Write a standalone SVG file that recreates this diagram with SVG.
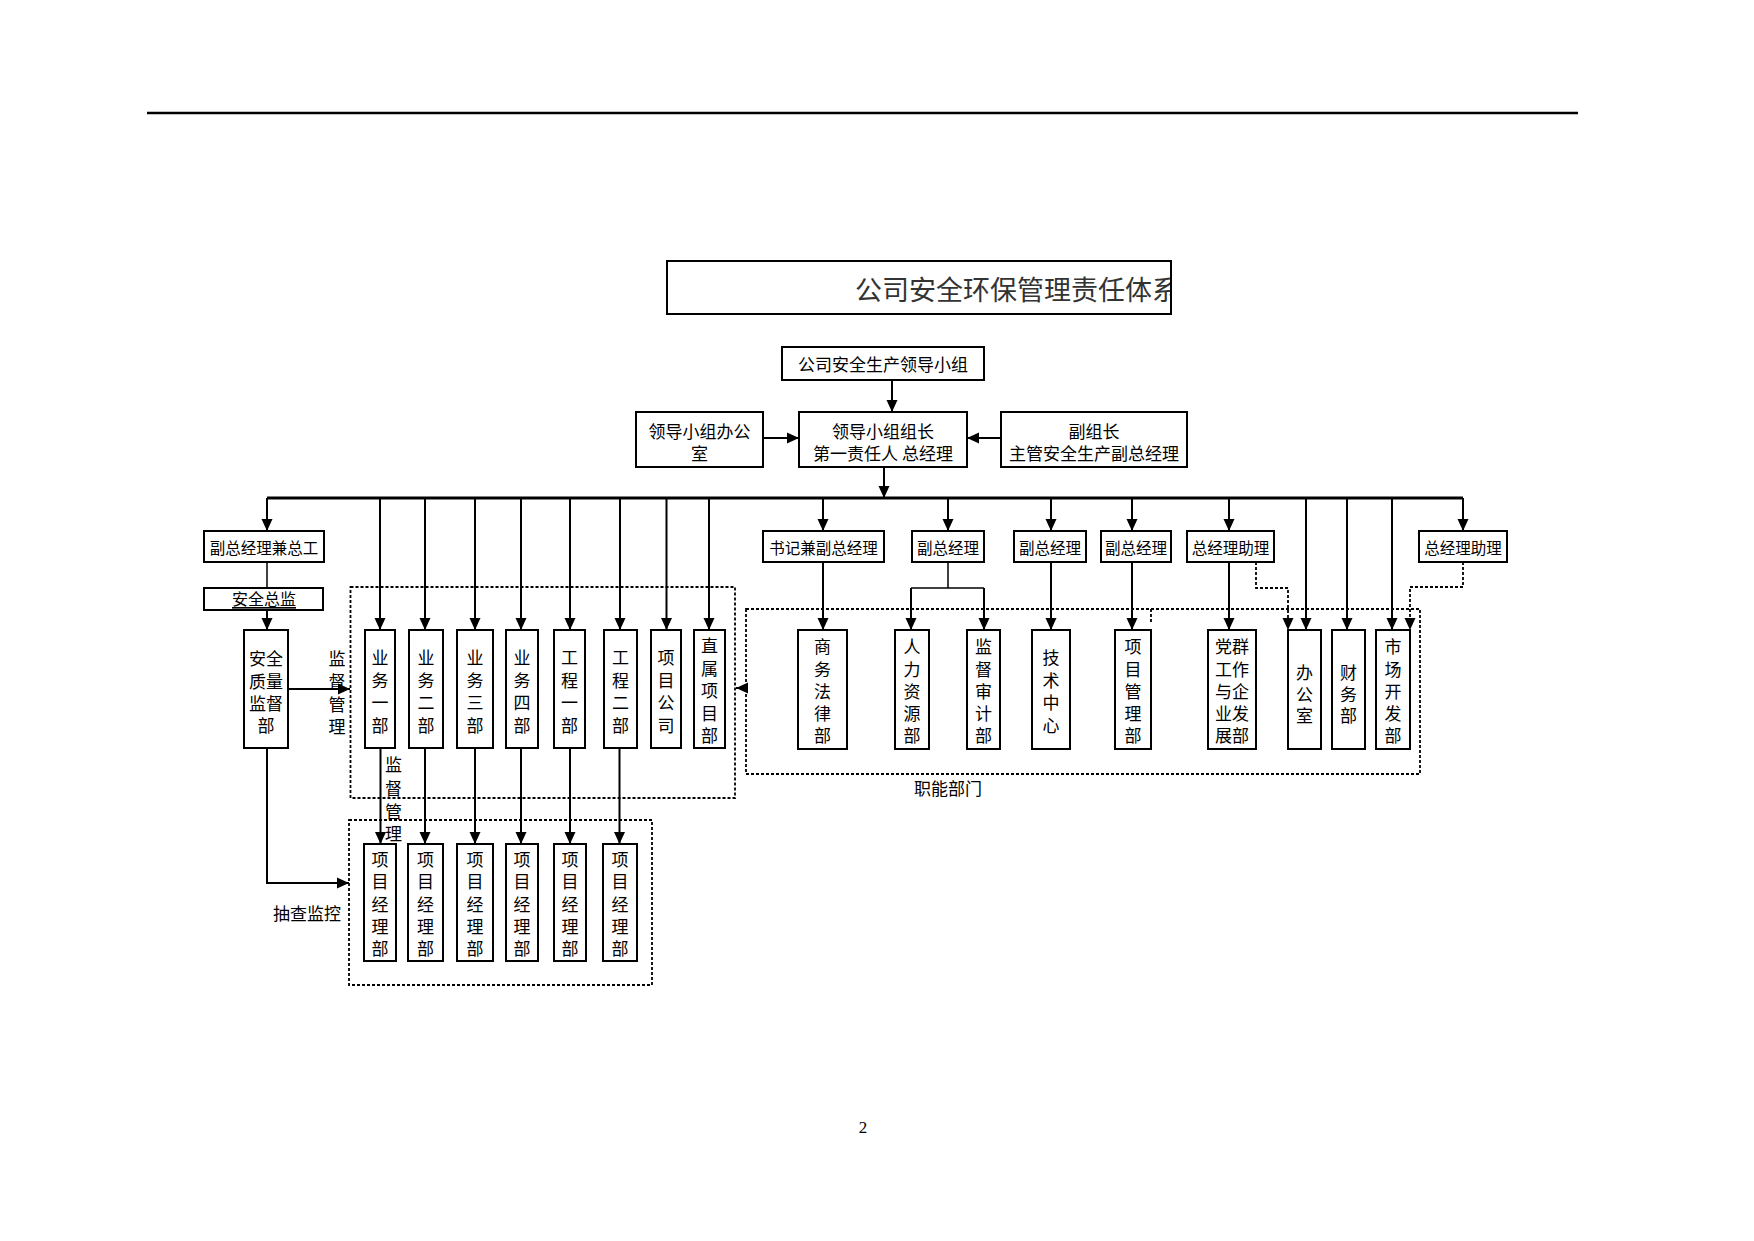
<svg xmlns="http://www.w3.org/2000/svg" width="1754" height="1241" viewBox="0 0 1754 1241">
<style>
.box{fill:#fff;stroke:#000;stroke-width:2}
.t{font-family:"Noto Sans CJK SC","Noto Sans",sans-serif;font-size:15.5px;fill:#000;text-anchor:middle;dominant-baseline:central}
.tv{font-size:17px}
.ln{stroke:#000;stroke-width:2;fill:none}
.thin{stroke-width:1.5}
.bus{stroke-width:3}
.dot{stroke:#000;stroke-width:1.8;stroke-dasharray:3 2;fill:none}
.ar{marker-end:url(#arr)}
</style>
<defs>
<marker id="arr" markerUnits="userSpaceOnUse" markerWidth="12" markerHeight="12" viewBox="0 0 12 12" refX="12" refY="6" orient="auto">
<path d="M0,0.5 L12,6 L0,11.5 z" fill="#000"/>
</marker>
<clipPath id="titleclip"><rect x="668" y="262" width="502" height="51"/></clipPath>
</defs>
<rect x="0" y="0" width="1754" height="1241" fill="#fff"/>
<line x1="147" y1="113" x2="1578" y2="113" stroke="#000" stroke-width="2.5"/>

<g id="title">
<rect x="667" y="261" width="504" height="53" class="box"/>
<text x="855" y="288" clip-path="url(#titleclip)" style="font-family:'Noto Sans CJK SC','Noto Sans',sans-serif;font-size:27px;fill:#333;dominant-baseline:central">公司安全环保管理责任体系</text>
</g>

<g id="connectors">
<line x1="892" y1="380" x2="892" y2="412" class="ln ar"/>
<line x1="763" y1="438" x2="799" y2="438" class="ln ar"/>
<line x1="1001" y1="438" x2="967" y2="438" class="ln ar"/>
<line x1="884" y1="467" x2="884" y2="498" class="ln ar"/>
<line x1="267" y1="498" x2="1463" y2="498" class="ln bus"/>
<line x1="267" y1="498" x2="267" y2="531" class="ln ar"/>
<line x1="823" y1="498" x2="823" y2="531" class="ln ar"/>
<line x1="948" y1="498" x2="948" y2="531" class="ln ar"/>
<line x1="1051" y1="498" x2="1051" y2="531" class="ln ar"/>
<line x1="1132" y1="498" x2="1132" y2="531" class="ln ar"/>
<line x1="1229" y1="498" x2="1229" y2="531" class="ln ar"/>
<line x1="1463" y1="498" x2="1463" y2="531" class="ln ar"/>
<line x1="267" y1="562" x2="267" y2="588" class="ln thin"/>
<line x1="267" y1="610" x2="267" y2="630" class="ln ar"/>
<line x1="288" y1="689" x2="350" y2="689" class="ln ar"/>
<polyline points="267,748 267,883 349,883" class="ln ar"/>
<line x1="380" y1="498" x2="380" y2="630" class="ln ar"/>
<line x1="425" y1="498" x2="425" y2="630" class="ln ar"/>
<line x1="475" y1="498" x2="475" y2="630" class="ln ar"/>
<line x1="521" y1="498" x2="521" y2="630" class="ln ar"/>
<line x1="570" y1="498" x2="570" y2="630" class="ln ar"/>
<line x1="620" y1="498" x2="620" y2="630" class="ln ar"/>
<line x1="666.5" y1="498" x2="666.5" y2="630" class="ln ar"/>
<line x1="709" y1="498" x2="709" y2="630" class="ln ar"/>
<line x1="380.5" y1="748" x2="380.5" y2="844" class="ln ar"/>
<line x1="425" y1="748" x2="425" y2="844" class="ln ar"/>
<line x1="475" y1="748" x2="475" y2="844" class="ln ar"/>
<line x1="521" y1="748" x2="521" y2="844" class="ln ar"/>
<line x1="570" y1="748" x2="570" y2="844" class="ln ar"/>
<line x1="619.5" y1="748" x2="619.5" y2="844" class="ln ar"/>
<line x1="823" y1="562" x2="823" y2="630" class="ln ar"/>
<line x1="948" y1="562" x2="948" y2="588" class="ln thin"/>
<line x1="911" y1="588" x2="984" y2="588" class="ln thin"/>
<line x1="911" y1="588" x2="911" y2="630" class="ln ar"/>
<line x1="984" y1="588" x2="984" y2="630" class="ln ar"/>
<line x1="1051" y1="562" x2="1051" y2="630" class="ln ar"/>
<line x1="1132" y1="562" x2="1132" y2="630" class="ln ar"/>
<line x1="1229" y1="562" x2="1229" y2="630" class="ln ar"/>
<line x1="1306" y1="498" x2="1306" y2="630" class="ln ar"/>
<line x1="1347" y1="498" x2="1347" y2="630" class="ln ar"/>
<line x1="1392" y1="498" x2="1392" y2="630" class="ln ar"/>
<polyline points="1256,562 1256,588 1288,588 1288,630" class="dot ar"/>
<polyline points="1463,562 1463,587 1410,587 1410,630" class="dot ar"/>
<line x1="748" y1="688" x2="736" y2="688" class="ln ar"/>
</g>

<g id="group-upper">
<rect x="350.5" y="587" width="384.5" height="211" class="dot"/>
</g>
<g id="group-lower">
<rect x="349" y="820" width="303" height="165" class="dot"/>
</g>
<g id="group-functional">
<rect x="746" y="609" width="674" height="165" class="dot"/>
<line x1="1151" y1="609" x2="1151" y2="622" class="dot"/>
<text x="948" y="787" class="t tv">职能部门</text>
</g>

<g id="n-leadgroup">
<rect x="782" y="347" width="202" height="33" class="box"/>
<text x="883" y="363.5" class="t tv">公司安全生产领导小组</text>
</g>
<g id="n-office">
<rect x="636" y="412" width="127" height="55" class="box"/>
<text x="699.5" y="430" class="t tv">领导小组办公</text>
<text x="699.5" y="452" class="t tv">室</text>
</g>
<g id="n-leader">
<rect x="799" y="412" width="168" height="55" class="box"/>
<text x="883" y="430" class="t tv">领导小组组长</text>
<text x="883" y="452" class="t tv">第一责任人  总经理</text>
</g>
<g id="n-deputy">
<rect x="1001" y="412" width="186" height="55" class="box"/>
<text x="1094" y="430" class="t tv">副组长</text>
<text x="1094" y="452" class="t tv">主管安全生产副总经理</text>
</g>

<g id="n-vgm-chief">
<rect x="204" y="531" width="120" height="31" class="box"/>
<text x="264" y="546.5" class="t">副总经理兼总工</text>
</g>
<g id="n-safety-director">
<rect x="204" y="588" width="119" height="22" class="box"/>
<text x="264" y="598" class="t" style="font-size:16px;text-decoration:underline">安全总监</text>
</g>
<g id="n-sqs">
<rect x="244" y="630" width="44" height="118" class="box"/>
<text class="t tv"><tspan x="266" y="657">安全</tspan><tspan x="266" y="680">质量</tspan><tspan x="266" y="702">监督</tspan><tspan x="266" y="724">部</tspan></text>
</g>
<text class="t tv"><tspan x="337" y="657">监</tspan><tspan x="337" y="680">督</tspan><tspan x="337" y="703">管</tspan><tspan x="337" y="725">理</tspan></text>
<text class="t tv"><tspan x="393.5" y="763">监</tspan><tspan x="393.5" y="787">督</tspan><tspan x="393.5" y="810">管</tspan><tspan x="393.5" y="832">理</tspan></text>
<text x="307" y="912" class="t tv">抽查监控</text>

<g id="n-yw1"><rect x="365" y="630" width="30" height="118" class="box"/>
<text class="t tv"><tspan x="380" y="656">业</tspan><tspan x="380" y="679">务</tspan><tspan x="380" y="701">一</tspan><tspan x="380" y="724">部</tspan></text></g>
<g id="n-yw2"><rect x="409" y="630" width="34" height="118" class="box"/>
<text class="t tv"><tspan x="426" y="656">业</tspan><tspan x="426" y="679">务</tspan><tspan x="426" y="701">二</tspan><tspan x="426" y="724">部</tspan></text></g>
<g id="n-yw3"><rect x="457" y="630" width="36" height="118" class="box"/>
<text class="t tv"><tspan x="475" y="656">业</tspan><tspan x="475" y="679">务</tspan><tspan x="475" y="701">三</tspan><tspan x="475" y="724">部</tspan></text></g>
<g id="n-yw4"><rect x="506" y="630" width="32" height="118" class="box"/>
<text class="t tv"><tspan x="522" y="656">业</tspan><tspan x="522" y="679">务</tspan><tspan x="522" y="701">四</tspan><tspan x="522" y="724">部</tspan></text></g>
<g id="n-gc1"><rect x="554" y="630" width="31" height="118" class="box"/>
<text class="t tv"><tspan x="569.5" y="656">工</tspan><tspan x="569.5" y="679">程</tspan><tspan x="569.5" y="701">一</tspan><tspan x="569.5" y="724">部</tspan></text></g>
<g id="n-gc2"><rect x="604" y="630" width="33" height="118" class="box"/>
<text class="t tv"><tspan x="620.5" y="656">工</tspan><tspan x="620.5" y="679">程</tspan><tspan x="620.5" y="701">二</tspan><tspan x="620.5" y="724">部</tspan></text></g>
<g id="n-xmgs"><rect x="651" y="630" width="30" height="118" class="box"/>
<text class="t tv"><tspan x="666" y="656">项</tspan><tspan x="666" y="679">目</tspan><tspan x="666" y="701">公</tspan><tspan x="666" y="724">司</tspan></text></g>
<g id="n-zsxmb"><rect x="694" y="630" width="31" height="118" class="box"/>
<text class="t tv"><tspan x="709.5" y="644">直</tspan><tspan x="709.5" y="666.5">属</tspan><tspan x="709.5" y="689">项</tspan><tspan x="709.5" y="711.5">目</tspan><tspan x="709.5" y="734">部</tspan></text></g>

<g id="n-pm1"><rect x="364" y="844" width="32" height="117" class="box"/>
<text class="t tv"><tspan x="380" y="858">项</tspan><tspan x="380" y="880">目</tspan><tspan x="380" y="902.5">经</tspan><tspan x="380" y="925">理</tspan><tspan x="380" y="947">部</tspan></text></g>
<g id="n-pm2"><rect x="408" y="844" width="35" height="117" class="box"/>
<text class="t tv"><tspan x="425.5" y="858">项</tspan><tspan x="425.5" y="880">目</tspan><tspan x="425.5" y="902.5">经</tspan><tspan x="425.5" y="925">理</tspan><tspan x="425.5" y="947">部</tspan></text></g>
<g id="n-pm3"><rect x="457" y="844" width="36" height="117" class="box"/>
<text class="t tv"><tspan x="475" y="858">项</tspan><tspan x="475" y="880">目</tspan><tspan x="475" y="902.5">经</tspan><tspan x="475" y="925">理</tspan><tspan x="475" y="947">部</tspan></text></g>
<g id="n-pm4"><rect x="506" y="844" width="32" height="117" class="box"/>
<text class="t tv"><tspan x="522" y="858">项</tspan><tspan x="522" y="880">目</tspan><tspan x="522" y="902.5">经</tspan><tspan x="522" y="925">理</tspan><tspan x="522" y="947">部</tspan></text></g>
<g id="n-pm5"><rect x="554" y="844" width="32" height="117" class="box"/>
<text class="t tv"><tspan x="570" y="858">项</tspan><tspan x="570" y="880">目</tspan><tspan x="570" y="902.5">经</tspan><tspan x="570" y="925">理</tspan><tspan x="570" y="947">部</tspan></text></g>
<g id="n-pm6"><rect x="603" y="844" width="34" height="117" class="box"/>
<text class="t tv"><tspan x="620" y="858">项</tspan><tspan x="620" y="880">目</tspan><tspan x="620" y="902.5">经</tspan><tspan x="620" y="925">理</tspan><tspan x="620" y="947">部</tspan></text></g>

<g id="n-sj"><rect x="763" y="531" width="121" height="31" class="box"/><text x="823.5" y="546.5" class="t">书记兼副总经理</text></g>
<g id="n-vgm1"><rect x="912" y="531" width="72" height="31" class="box"/><text x="948" y="546.5" class="t">副总经理</text></g>
<g id="n-vgm2"><rect x="1014" y="531" width="72" height="31" class="box"/><text x="1050" y="546.5" class="t">副总经理</text></g>
<g id="n-vgm3"><rect x="1101" y="531" width="70" height="31" class="box"/><text x="1136" y="546.5" class="t">副总经理</text></g>
<g id="n-asst1"><rect x="1187" y="531" width="87" height="31" class="box"/><text x="1230.5" y="546.5" class="t">总经理助理</text></g>
<g id="n-asst2"><rect x="1419" y="531" width="88" height="31" class="box"/><text x="1463" y="546.5" class="t">总经理助理</text></g>

<g id="n-swflb"><rect x="798" y="630" width="49" height="119" class="box"/>
<text class="t tv"><tspan x="822.5" y="645">商</tspan><tspan x="822.5" y="667.5">务</tspan><tspan x="822.5" y="690">法</tspan><tspan x="822.5" y="712">律</tspan><tspan x="822.5" y="734">部</tspan></text></g>
<g id="n-rlzyb"><rect x="895" y="630" width="34" height="119" class="box"/>
<text class="t tv"><tspan x="912" y="645">人</tspan><tspan x="912" y="667.5">力</tspan><tspan x="912" y="690">资</tspan><tspan x="912" y="712">源</tspan><tspan x="912" y="734">部</tspan></text></g>
<g id="n-jdsjb"><rect x="967" y="630" width="33" height="119" class="box"/>
<text class="t tv"><tspan x="983.5" y="645">监</tspan><tspan x="983.5" y="667.5">督</tspan><tspan x="983.5" y="690">审</tspan><tspan x="983.5" y="712">计</tspan><tspan x="983.5" y="734">部</tspan></text></g>
<g id="n-jszx"><rect x="1032" y="630" width="38" height="119" class="box"/>
<text class="t tv"><tspan x="1051" y="656">技</tspan><tspan x="1051" y="679">术</tspan><tspan x="1051" y="701">中</tspan><tspan x="1051" y="724">心</tspan></text></g>
<g id="n-xmglb"><rect x="1115" y="630" width="36" height="119" class="box"/>
<text class="t tv"><tspan x="1133" y="645">项</tspan><tspan x="1133" y="667.5">目</tspan><tspan x="1133" y="690">管</tspan><tspan x="1133" y="712">理</tspan><tspan x="1133" y="734">部</tspan></text></g>
<g id="n-dq"><rect x="1208" y="630" width="48" height="119" class="box"/>
<text class="t tv"><tspan x="1232" y="645">党群</tspan><tspan x="1232" y="667.5">工作</tspan><tspan x="1232" y="690">与企</tspan><tspan x="1232" y="712">业发</tspan><tspan x="1232" y="734">展部</tspan></text></g>
<g id="n-bgs"><rect x="1288" y="630" width="33" height="119" class="box"/>
<text class="t tv"><tspan x="1304.5" y="671">办</tspan><tspan x="1304.5" y="692.5">公</tspan><tspan x="1304.5" y="714">室</tspan></text></g>
<g id="n-cwb"><rect x="1332" y="630" width="33" height="119" class="box"/>
<text class="t tv"><tspan x="1348.5" y="671">财</tspan><tspan x="1348.5" y="692.5">务</tspan><tspan x="1348.5" y="714">部</tspan></text></g>
<g id="n-sckfb"><rect x="1376" y="630" width="34" height="119" class="box"/>
<text class="t tv"><tspan x="1393" y="645">市</tspan><tspan x="1393" y="667.5">场</tspan><tspan x="1393" y="690">开</tspan><tspan x="1393" y="712">发</tspan><tspan x="1393" y="734">部</tspan></text></g>

<text x="863" y="1127" style="font-family:'Liberation Serif',serif;font-size:17px;text-anchor:middle;dominant-baseline:central">2</text>
</svg>
